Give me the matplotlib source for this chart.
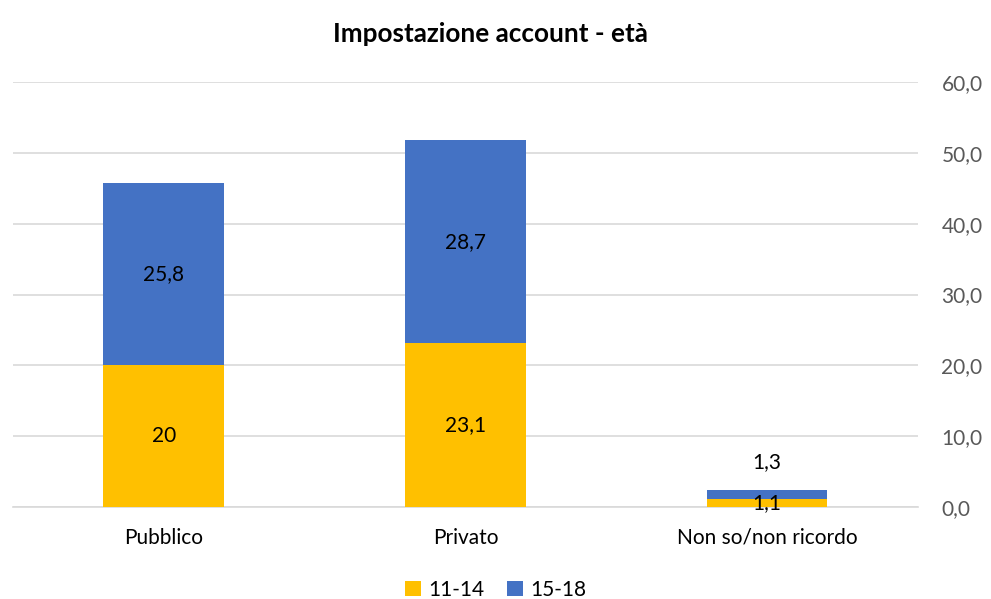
import matplotlib
matplotlib.use("Agg")
import matplotlib.pyplot as plt
import numpy as np

categories = ["Pubblico", "Privato", "Non so/non ricordo"]
series_names = ["11-14", "15-18"]
values_11_14 = [20.0, 23.1, 1.1]
values_15_18 = [25.8, 28.7, 1.3]
label_11_14 = ["20", "23,1", "1,1"]
label_15_18 = ["25,8", "28,7", "1,3"]
y_ticks = [0, 10, 20, 30, 40, 50, 60]

YELLOW = "#FFC000"
BLUE = "#4472C4"
GRID = "#D9D9D9"
TICK = "#595959"

plt.rcParams["font.family"] = ["Lato", "DejaVu Sans"]

fig = plt.figure(figsize=(9.91, 5.99), dpi=100)
ax = fig.add_axes([0.0131, 0.1536, 0.9131, 0.7094])

x = np.arange(len(categories))
w = 0.4
ax.bar(x, values_11_14, w, color=YELLOW, label=series_names[0], zorder=3)
ax.bar(x, values_15_18, w, bottom=values_11_14, color=BLUE,
       label=series_names[1], zorder=3)

FS = 15
for i in range(len(categories)):
    ax.text(x[i], values_11_14[i] / 2, label_11_14[i], ha="center", va="center",
            fontsize=FS, color="black", zorder=4)
    top = values_11_14[i] + values_15_18[i]
    if values_15_18[i] < 3:
        ax.annotate(label_15_18[i], (x[i], top), xytext=(0, 20),
                    textcoords="offset points", ha="center", va="center",
                    fontsize=FS, color="black", zorder=4)
    else:
        ax.text(x[i], values_11_14[i] + values_15_18[i] / 2, label_15_18[i],
                ha="center", va="center", fontsize=FS, color="black", zorder=4)

ax.set_xlim(-0.5, len(categories) - 0.5)
ax.set_ylim(0, 60)
ax.set_yticks(y_ticks)
ax.set_yticklabels([f"{v:.1f}".replace(".", ",") for v in y_ticks])
ax.yaxis.tick_right()
ax.tick_params(axis="y", length=0, pad=17, labelsize=FS, labelcolor=TICK)
ax.set_xticks(x)
ax.set_xticklabels(categories)
ax.tick_params(axis="x", length=0, pad=15, labelsize=FS, labelcolor="black")
ax.grid(axis="y", color=GRID, linewidth=1.2, zorder=0)
for s in ["top", "right", "left"]:
    ax.spines[s].set_visible(False)
ax.spines["bottom"].set_color(GRID)
ax.spines["bottom"].set_linewidth(1.2)

fig.text(0.495, 0.944, "Impostazione account - età", ha="center", va="center",
         fontsize=18.8, fontweight="bold", color="black")

leg = fig.legend(loc="center", ncol=2, frameon=False,
                 fontsize=FS, handlelength=0.75, handleheight=0.75,
                 handletextpad=0.35, columnspacing=1.1)
leg.set_bbox_to_anchor((0.5, 0.015), transform=fig.transFigure)

fig.savefig("out.png", dpi=100)
